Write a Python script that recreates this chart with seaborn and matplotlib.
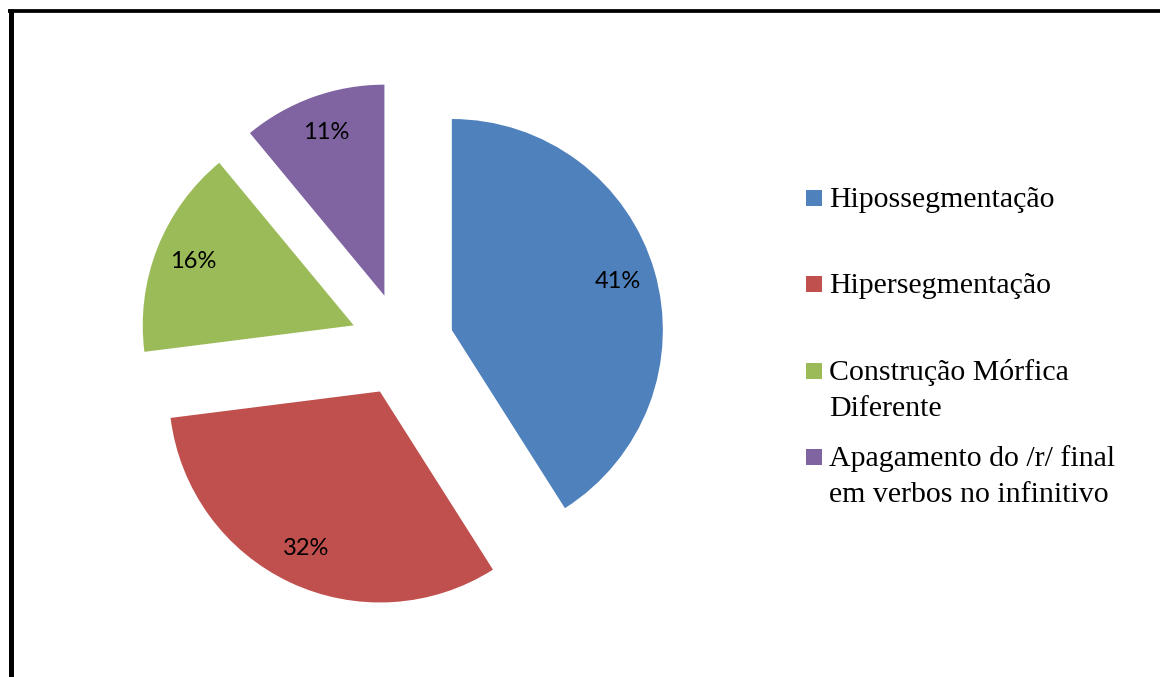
import numpy as np
import seaborn as sns
import matplotlib
matplotlib.use("Agg")
import matplotlib.pyplot as plt
from matplotlib.patches import Rectangle
from matplotlib.lines import Line2D

# data
categories = [
    "Hipossegmentação",
    "Hipersegmentação",
    "Construção Mórfica\nDiferente",
    "Apagamento do /r/ final\nem verbos no infinitivo",
]
percentages = [41, 32, 16, 11]
colors = ["#4F81BD", "#C0504D", "#9BBB59", "#8064A2"]


def main():
    sns.set_theme(style="white")
    plt.rcParams["font.family"] = ["Liberation Serif", "DejaVu Serif"]

    W, H = 1160, 677
    fig = plt.figure(figsize=(W / 100, H / 100), dpi=100)
    fig.patch.set_facecolor("white")
    ax = fig.add_axes([0, 0, 1, 1])

    wedges, texts, autotexts = ax.pie(
        percentages,
        colors=colors,
        explode=[0.246] * len(percentages),
        startangle=90,
        counterclock=False,
        autopct="%1.0f%%",
        pctdistance=0.82,
        radius=1,
        wedgeprops=dict(linewidth=0),
        textprops=dict(family=["Lato", "DejaVu Sans"], fontsize=17, color="black"),
    )

    # pie centre sits at (402, 344.5) px, radius 211 px
    cx, cy, r = 402, 344.5, 211
    ax.set_aspect("auto")
    ax.set_xlim(-cx / r, (W - cx) / r)
    ax.set_ylim((cy - H) / r, cy / r)
    ax.axis("off")

    # legend drawn by hand to keep Excel's fixed row slots
    baselines = [207, 293, 380, 466]
    line_gap = 36
    for lab, col, base in zip(categories, colors, baselines):
        fig.add_artist(Rectangle((806 / W, 1 - (base - 1) / H), 16 / W, 16 / H,
                                 transform=fig.transFigure, facecolor=col,
                                 edgecolor="none"))
        for k, line in enumerate(lab.split("\n")):
            fig.text(829 / W, 1 - (base + k * line_gap) / H, line,
                     fontsize=21.5, va="baseline", ha="left", color="black")

    # frame around the chart area (only left and top edges are visible)
    fig.add_artist(Line2D([10.5 / W, 10.5 / W], [0, 1 - 9 / H],
                          transform=fig.transFigure, color="black", lw=3.6,
                          solid_capstyle="butt"))
    fig.add_artist(Line2D([8 / W, 1], [1 - 10.5 / H, 1 - 10.5 / H],
                          transform=fig.transFigure, color="black", lw=2.7,
                          solid_capstyle="butt"))

    fig.savefig("out.png", dpi=100, facecolor="white")


main()
